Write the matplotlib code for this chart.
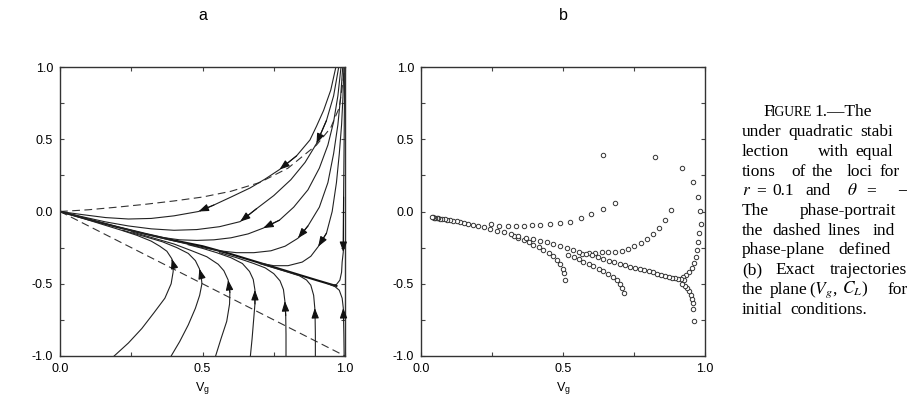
import matplotlib
matplotlib.use("Agg")
import matplotlib.pyplot as plt

plt.rcParams['font.family'] = ['Liberation Sans', 'DejaVu Sans']
plt.rcParams['mathtext.fontset'] = 'stix'

# ---------------- data : panel a (phase portrait) ----------------
dash_upper_x = [0.0, 0.1, 0.2, 0.3, 0.4, 0.5, 0.6, 0.7, 0.8, 0.9, 0.95, 0.98, 1.0]
dash_upper_y = [0.0, 0.012, 0.03, 0.05, 0.073, 0.10, 0.14, 0.20, 0.30, 0.46, 0.58, 0.72, 1.0]
dash_lower_x = [0.0, 1.0]
dash_lower_y = [0.0, -1.0]

bundle_x = [0.97, 0.96, 0.9, 0.8, 0.7, 0.6, 0.5, 0.4, 0.3, 0.2, 0.1, 0.0]
bundle_y = [-0.515, -0.51, -0.475, -0.415, -0.355, -0.295, -0.24, -0.2, -0.155, -0.107, -0.055, 0.0]

# upper family (flow: top right -> origin)
u1_x = [0.968, 0.95, 0.925, 0.90, 0.877, 0.83, 0.77, 0.72, 0.667, 0.6, 0.54, 0.486, 0.40, 0.32, 0.24, 0.16, 0.08, 0.0]
u1_y = [1.0, 0.84, 0.70, 0.59, 0.495, 0.385, 0.29, 0.225, 0.163, 0.10, 0.045, 0.0, -0.03, -0.048, -0.052, -0.042, -0.022, 0.0]
u2_x = [0.978, 0.96, 0.935, 0.90, 0.86, 0.81, 0.75, 0.69, 0.632, 0.56, 0.48, 0.40, 0.32, 0.24, 0.16, 0.08, 0.0]
u2_y = [1.0, 0.80, 0.63, 0.47, 0.34, 0.22, 0.11, 0.02, -0.07, -0.105, -0.125, -0.13, -0.12, -0.10, -0.072, -0.037, 0.0]
u3_x = [0.986, 0.975, 0.96, 0.94, 0.91, 0.87, 0.82, 0.77, 0.713, 0.66, 0.6, 0.54, 0.48, 0.42, 0.36, 0.3, 0.2, 0.1, 0.0]
u3_y = [1.0, 0.80, 0.62, 0.46, 0.30, 0.15, 0.03, -0.06, -0.115, -0.155, -0.182, -0.196, -0.2, -0.196, -0.18, -0.155, -0.107, -0.055, 0.0]
u4_x = [0.992, 0.985, 0.975, 0.96, 0.94, 0.91, 0.87, 0.835, 0.79, 0.74, 0.68, 0.62, 0.56, 0.5, 0.44, 0.36, 0.28, 0.2, 0.1, 0.0]
u4_y = [1.0, 0.80, 0.60, 0.40, 0.20, 0.03, -0.10, -0.185, -0.24, -0.272, -0.285, -0.285, -0.272, -0.25, -0.222, -0.185, -0.146, -0.105, -0.054, 0.0]
u5_x = [0.996, 0.993, 0.988, 0.98, 0.97, 0.955, 0.935, 0.906, 0.88, 0.85, 0.8, 0.75, 0.7]
u5_y = [1.0, 0.80, 0.60, 0.40, 0.20, 0.0, -0.15, -0.243, -0.31, -0.35, -0.375, -0.375, -0.357]
u6_x = [0.999, 0.997, 0.995, 0.994, 0.99, 0.988, 0.982, 0.97, 0.955]
u6_y = [1.0, 0.5, 0.1, -0.28, -0.35, -0.42, -0.475, -0.505, -0.51]

# lower family (flow: bottom -> origin)
l1_x = [0.19, 0.24, 0.287, 0.33, 0.368, 0.39, 0.397, 0.397, 0.392, 0.375, 0.35, 0.32, 0.27, 0.216, 0.15, 0.08, 0.0]
l1_y = [-1.0, -0.91, -0.81, -0.70, -0.60, -0.50, -0.417, -0.36, -0.326, -0.275, -0.24, -0.205, -0.165, -0.13, -0.09, -0.047, 0.0]
l2_x = [0.39, 0.42, 0.45, 0.475, 0.49, 0.498, 0.495, 0.489, 0.475, 0.45, 0.41, 0.36, 0.3, 0.22]
l2_y = [-1.0, -0.9, -0.785, -0.67, -0.58, -0.5, -0.44, -0.396, -0.34, -0.29, -0.25, -0.21, -0.175, -0.13]
l3_x = [0.546, 0.565, 0.585, 0.595, 0.596, 0.59, 0.575, 0.555, 0.515, 0.46, 0.4, 0.33, 0.25]
l3_y = [-1.0, -0.88, -0.76, -0.64, -0.56, -0.474, -0.41, -0.365, -0.313, -0.27, -0.225, -0.185, -0.14]
l4_x = [0.668, 0.674, 0.679, 0.684, 0.684, 0.678, 0.665, 0.64, 0.6, 0.55, 0.5, 0.45]
l4_y = [-1.0, -0.88, -0.76, -0.64, -0.543, -0.47, -0.415, -0.36, -0.32, -0.285, -0.255, -0.23]
l5_x = [0.793, 0.793, 0.792, 0.789, 0.784, 0.772, 0.75, 0.72, 0.68, 0.62, 0.56]
l5_y = [-1.0, -0.85, -0.72, -0.62, -0.54, -0.48, -0.43, -0.39, -0.36, -0.32, -0.285]
l6_x = [0.896, 0.896, 0.895, 0.894, 0.89, 0.88, 0.865, 0.84, 0.8, 0.75, 0.7]
l6_y = [-1.0, -0.85, -0.72, -0.668, -0.58, -0.51, -0.474, -0.445, -0.42, -0.39, -0.36]
l7_x = [0.997, 0.996, 0.995, 0.994, 0.99, 0.98, 0.965, 0.94]
l7_y = [-1.0, -0.85, -0.75, -0.668, -0.6, -0.545, -0.52, -0.5]

curves_a = [
    (u1_x, u1_y, [6, 11]), (u2_x, u2_y, [3, 8]), (u3_x, u3_y, [8]),
    (u4_x, u4_y, [7]), (u5_x, u5_y, [7]), (u6_x, u6_y, [3]),
    (l1_x, l1_y, [8]), (l2_x, l2_y, [7]), (l3_x, l3_y, [5]),
    (l4_x, l4_y, [4]), (l5_x, l5_y, [3]), (l6_x, l6_y, [3]), (l7_x, l7_y, [3]),
]

# ---------------- data : panel b (exact trajectories) ----------------
s1_x = [0.642, 0.683, 0.642, 0.599, 0.563, 0.525, 0.490, 0.455, 0.420, 0.392, 0.361, 0.335, 0.307, 0.274, 0.247]
s1_y = [0.393, 0.059, 0.015, -0.019, -0.048, -0.071, -0.081, -0.084, -0.091, -0.096, -0.100, -0.103, -0.103, -0.100, -0.087]
s2_x = [0.824, 0.880, 0.859, 0.839, 0.818, 0.795, 0.774, 0.751, 0.729, 0.707, 0.683, 0.660, 0.637, 0.613, 0.590, 0.567]
s2_y = [0.377, 0.013, -0.057, -0.112, -0.158, -0.193, -0.218, -0.241, -0.260, -0.271, -0.278, -0.280, -0.283, -0.285, -0.287, -0.292]
s3_x = [0.920, 0.957, 0.974, 0.982, 0.985, 0.980, 0.977, 0.973, 0.968, 0.961, 0.953, 0.944, 0.933, 0.921]
s3_y = [0.303, 0.204, 0.100, 0.001, -0.084, -0.149, -0.211, -0.264, -0.315, -0.356, -0.389, -0.416, -0.437, -0.453]
s4_x = [0.961, 0.959, 0.957, 0.954, 0.951, 0.945, 0.938, 0.930, 0.919]
s4_y = [-0.758, -0.672, -0.633, -0.603, -0.576, -0.550, -0.529, -0.513, -0.499]
s5_x = [0.508, 0.505, 0.499, 0.490, 0.478, 0.464, 0.449, 0.431, 0.414, 0.396, 0.379, 0.361, 0.343, 0.326]
s5_y = [-0.476, -0.426, -0.396, -0.363, -0.336, -0.310, -0.287, -0.266, -0.248, -0.230, -0.213, -0.197, -0.181, -0.167]
s6_x = [0.716, 0.709, 0.701, 0.689, 0.675, 0.660, 0.642, 0.625, 0.607, 0.590, 0.572, 0.555, 0.537, 0.519]
s6_y = [-0.562, -0.527, -0.499, -0.474, -0.453, -0.433, -0.414, -0.396, -0.380, -0.363, -0.347, -0.331, -0.315, -0.301]
main_x = [0.925, 0.915, 0.905, 0.895, 0.885, 0.873, 0.86, 0.846, 0.832, 0.817, 0.802, 0.786, 0.77, 0.753,
          0.736, 0.718, 0.70, 0.681, 0.662, 0.642, 0.622, 0.601, 0.58, 0.558, 0.536, 0.513, 0.49, 0.466,
          0.442, 0.418, 0.393, 0.368, 0.343, 0.318, 0.293, 0.268, 0.244, 0.222, 0.202, 0.184, 0.167, 0.152,
          0.138, 0.125, 0.113, 0.102, 0.092, 0.083, 0.075, 0.068, 0.061, 0.055, 0.05, 0.045, 0.041, 0.037]
main_y = [-0.472, -0.468, -0.466, -0.462, -0.458, -0.452, -0.446, -0.438, -0.430, -0.422, -0.413, -0.405, -0.398, -0.390,
          -0.381, -0.371, -0.362, -0.351, -0.340, -0.328, -0.316, -0.304, -0.291, -0.278, -0.265, -0.250, -0.237, -0.226,
          -0.214, -0.204, -0.193, -0.181, -0.169, -0.157, -0.145, -0.132, -0.119, -0.108, -0.098, -0.091, -0.084, -0.078,
          -0.073, -0.068, -0.064, -0.060, -0.057, -0.054, -0.051, -0.049, -0.047, -0.045, -0.044, -0.042, -0.041, -0.040]
series_b = [(s1_x, s1_y), (s2_x, s2_y), (s3_x, s3_y), (s4_x, s4_y), (s5_x, s5_y), (s6_x, s6_y), (main_x, main_y)]

tick_major = [0.0, 0.5, 1.0]
tick_minor = [0.25, 0.75]
ytick_major = [-1.0, -0.5, 0.0, 0.5, 1.0]
ytick_minor = [-0.75, -0.25, 0.25, 0.75]
tick_labels_x = ["0.0", "0.5", "1.0"]
tick_labels_y = ["-1.0", "-0.5", "0.0", "0.5", "1.0"]
xlabel = "V$_\\mathregular{g}$"
panel_labels = ["a", "b"]

caption_lines = [
    ["F", "IGURE", "1.\u2014The"],
    ["under", "quadratic", "stabi"],
    ["lection", "with", "equal"],
    ["tions", "of", "the", "loci", "for"],
    ["$r$", "=", "0.1", "and", "$\\theta$", "=", "\u2212"],
    ["The", "phase-portrait"],
    ["the", "dashed", "lines", "ind"],
    ["phase-plane", "defined"],
    ["(b)", "Exact", "trajectories"],
    ["the", "plane", "($V_g$,", "$C_L$)", "for"],
    ["initial", "conditions."],
]
caption_pos = [
    [763, 771, 814],
    [742, 788, 860],
    [742, 818, 855],
    [742, 791, 812, 847, 880],
    [742, 756, 772, 805, 847, 866, 897],
    [742, 800],
    [742, 772, 828, 873],
    [742, 838],
    [742, 775, 830],
    [742, 770, 809, 842, 887],
    [742, 790],
]

# ---------------- figure ----------------
W, H = 910, 408
fig = plt.figure(figsize=(W / 100, H / 100), dpi=100)
axa = fig.add_axes([60 / W, 1 - 356 / H, 285 / W, 289 / H])
axb = fig.add_axes([421 / W, 1 - 356 / H, 284 / W, 289 / H])

for ax in (axa, axb):
    ax.set_xlim(0, 1)
    ax.set_ylim(-1, 1)
    ax.set_xticks(tick_major)
    ax.set_xticklabels(tick_labels_x)
    ax.set_xticks(tick_minor, minor=True)
    ax.set_yticks(ytick_major)
    ax.set_yticklabels(tick_labels_y)
    ax.set_yticks(ytick_minor, minor=True)
    ax.tick_params(which='both', direction='in', top=True, right=True, length=3,
                   width=0.8, color='#444444', labelsize=9, pad=5)
    for s in ax.spines.values():
        s.set_linewidth(1.0)
        s.set_color('#333333')
    ax.set_xlabel(xlabel, fontsize=9, labelpad=4)

# panel a
axa.plot(dash_upper_x, dash_upper_y, color='#333333', lw=0.8, dashes=(7, 4))
axa.plot(dash_lower_x, dash_lower_y, color='#333333', lw=0.8, dashes=(7, 4))
axa.plot(bundle_x, bundle_y, color='#111111', lw=1.5)
for cx, cy, arrows in curves_a:
    axa.plot(cx, cy, color='#222222', lw=0.8)
    for i in arrows:
        axa.annotate('', xy=(cx[i], cy[i]), xytext=(cx[i - 1], cy[i - 1]),
                     arrowprops=dict(arrowstyle='-|>,head_length=0.6,head_width=0.22',
                                     color='#111111', lw=0.8, shrinkA=0, shrinkB=0,
                                     mutation_scale=10))

# panel b
for sx, sy in series_b:
    axb.plot(sx, sy, linestyle='none', marker='o', markersize=3.2,
             markerfacecolor='white', markeredgecolor='#333333', markeredgewidth=0.7)

fig.text(203 / W, 1 - 15 / H, panel_labels[0], fontsize=11.5, ha='center', va='center')
fig.text(563 / W, 1 - 15 / H, panel_labels[1], fontsize=11.5, ha='center', va='center')

# caption
base0 = 116.5
step = 19.7
for k, (words, xs) in enumerate(zip(caption_lines, caption_pos)):
    yb = 1 - (base0 + k * step) / H
    for w, x in zip(words, xs):
        fs = 9.8 if (k == 0 and w == "IGURE") else 12.5
        fig.text(x / W, yb, w, fontsize=fs, family=['Liberation Serif', 'DejaVu Serif'],
                 va='baseline', ha='left', color='#000000')

fig.savefig("out.png", dpi=100)
